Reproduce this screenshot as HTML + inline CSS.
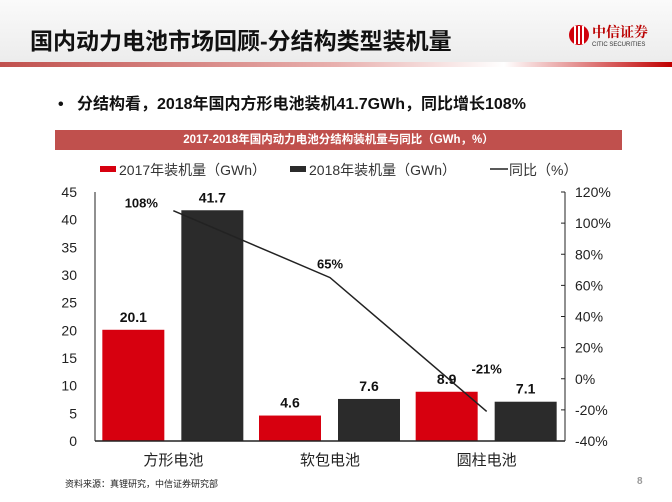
<!DOCTYPE html>
<html><head><meta charset="utf-8"><style>
body{margin:0;width:672px;height:502px;overflow:hidden;background:#fff;font-family:"Liberation Sans","Noto Sans CJK SC",sans-serif;position:relative}
.abs{position:absolute}
</style></head><body>
<div class="abs" style="left:0;top:0;width:672px;height:62px;background:linear-gradient(#fafafa,#ececec)"></div>
<div class="abs" style="left:0;top:62px;width:672px;height:5px;background:linear-gradient(90deg,#c0504d,#e8b0ae 50%,#fff 75%,#c00000)"></div>
<div class="abs" style="left:30px;top:22px;font-size:23px;font-weight:bold;color:#111;font-family:'Liberation Sans','Noto Sans CJK SC',sans-serif">国内动力电池市场回顾-分结构类型装机量</div>
<div class="abs" style="left:568px;top:20px;width:100px;height:30px">
<svg width="100" height="30"><circle cx="11" cy="15" r="10" fill="#d0000b"/><rect x="6" y="6" width="2" height="18" fill="#fff"/><rect x="10" y="6" width="2" height="18" fill="#fff"/><rect x="14" y="6" width="2" height="18" fill="#fff"/>
<text x="24" y="17" font-size="14" font-weight="bold" fill="#b00" font-family="Noto Serif CJK SC,serif">中信证券</text>
<text x="24" y="26" font-size="6" fill="#333" font-family="Liberation Sans,sans-serif">CITIC SECURITIES</text></svg></div>
<div class="abs" style="left:58px;top:90px;font-size:16px;font-weight:bold;color:#111">•&nbsp;&nbsp; 分结构看，2018年国内方形电池装机41.7GWh，同比增长108%</div>
<div class="abs" style="left:55px;top:130px;width:567px;height:20px;background:#c0504d;color:#fff;font-size:11.5px;font-weight:bold;text-align:center;line-height:20px">2017-2018年国内动力电池分结构装机量与同比（GWh，%）</div>
<svg class="abs" style="left:0;top:0" width="672" height="502" id="chart"></svg>
<div class="abs" style="left:65px;top:477px;font-size:9px;color:#222">资料来源：真锂研究，中信证券研究部</div>
<div class="abs" style="left:637px;top:476px;font-size:10px;color:#999;font-weight:bold">8</div>
<script>
const categories=["方形电池","软包电池","圆柱电池"];
const v2017=[20.1,4.6,8.9];
const v2018=[41.7,7.6,7.1];
const yoy=[108,65,-21];
const leftTicks=[0,5,10,15,20,25,30,35,40,45];
const rightTicks=[-40,-20,0,20,40,60,80,100,120];
const labelDx=[-32,0,0];
const labelDy=[-3,-9,-38];
const svg=document.getElementById('chart');const NS='http://www.w3.org/2000/svg';
const X0=95,X1=565,Y0=441,Y1=192;
const yL=v=>Y0-(v/45)*(Y0-Y1);
const yR=v=>Y0-((v+40)/160)*(Y0-Y1);
const cw=(X1-X0)/categories.length;
const cx=i=>X0+cw*(i+0.5);
function el(t,a,txt){const e=document.createElementNS(NS,t);for(const k in a)e.setAttribute(k,a[k]);if(txt!=null)e.textContent=txt;svg.appendChild(e);return e;}
const F='Liberation Sans, Noto Sans CJK SC, sans-serif';
leftTicks.forEach(t=>{const e=el('text',{x:77,y:yL(t)+5,'font-size':14,'text-anchor':'end','font-family':F,fill:'#222'},t);
});
rightTicks.forEach(t=>{const e=el('text',{x:575,y:yR(t)+5,'font-size':14,'font-family':F,fill:'#222'},t+'%');

const k=el('line',{x1:X1-4,x2:X1,y1:yR(t),y2:yR(t),stroke:'#222'});});
categories.forEach((c,i)=>{
const r=el('rect',{x:cx(i)-71,y:yL(v2017[i]),width:62,height:Y0-yL(v2017[i]),fill:'#d7000f'});

const b=el('rect',{x:cx(i)+8,y:yL(v2018[i]),width:62,height:Y0-yL(v2018[i]),fill:'#2b2b2b'});

const l1=el('text',{x:cx(i)-40,y:yL(v2017[i])-8,'font-size':14,'font-weight':'bold','text-anchor':'middle','font-family':F,fill:'#111'},v2017[i].toFixed(1));

const l2=el('text',{x:cx(i)+39,y:yL(v2018[i])-8,'font-size':14,'font-weight':'bold','text-anchor':'middle','font-family':F,fill:'#111'},v2018[i].toFixed(1));

const cl=el('text',{x:cx(i),y:465,'font-size':15,'text-anchor':'middle','font-family':F,fill:'#222'},c);

const yl=el('text',{x:cx(i)+labelDx[i],y:yR(yoy[i])+labelDy[i],'font-size':13,'font-weight':'bold','text-anchor':'middle','font-family':F,fill:'#111'},yoy[i]+'%');

});
const pl=el('polyline',{points:yoy.map((v,i)=>cx(i)+','+yR(v)).join(' '),fill:'none',stroke:'#222','stroke-width':1.5});

const ax=el('line',{x1:X0,x2:X1,y1:Y0,y2:Y0,stroke:'#222','stroke-width':1.5});
const la=el('line',{x1:X0,x2:X0,y1:Y1,y2:Y0,stroke:'#222'});
const ra=el('line',{x1:X1,x2:X1,y1:Y1,y2:Y0,stroke:'#222'});
const lg=[['#d7000f','2017年装机量（GWh）',100,'rect'],['#2b2b2b','2018年装机量（GWh）',290,'rect'],['#222','同比（%）',490,'line']];
lg.forEach(d=>{
const m=d[3]==='rect'?el('rect',{x:d[2],y:166,width:16,height:6,fill:d[0]}):el('line',{x1:d[2],x2:d[2]+18,y1:169,y2:169,stroke:d[0],'stroke-width':1.5});

const t=el('text',{x:d[2]+19,y:175,'font-size':14,'font-family':F,fill:'#333'},d[1]);
});
</script>
</body></html>
